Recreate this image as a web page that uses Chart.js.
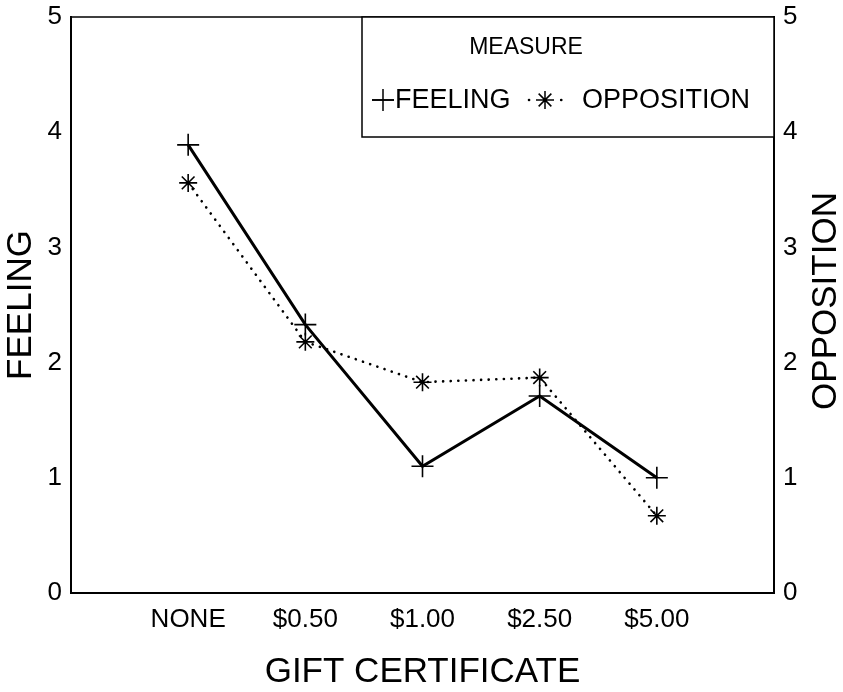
<!DOCTYPE html>
<html>
<head>
<meta charset="utf-8">
<script src="https://cdn.jsdelivr.net/npm/chart.js@4/dist/chart.umd.min.js"></script>
<style>
  html, body { margin: 0; padding: 0; background: #fff; }
  #wrap { width: 843px; height: 692px; }
</style>
</head>
<body>
<div id="wrap"><canvas id="giftChart" width="843" height="692"></canvas></div>
<script>
const categories = ['NONE', '$0.50', '$1.00', '$2.50', '$5.00'];
const feeling = [3.89, 2.33, 1.10, 1.71, 1.00];
const opposition = [3.56, 2.18, 1.83, 1.87, 0.67];
const yTicks = [0, 1, 2, 3, 4, 5];

const FONT = '"Liberation Sans", Arial, Helvetica, sans-serif';

// frame around the plot, boxed legend top right, right axis title read bottom-up
const framePlugin = {
  id: 'frame',
  afterDatasetsDraw(chart) {
    const { ctx, chartArea: a } = chart;
    ctx.save();
    ctx.strokeStyle = '#000';
    ctx.lineWidth = 1.5;
    ctx.strokeRect(a.left, a.top, a.right - a.left, a.bottom - a.top);

    const box = { left: a.right - 412, top: a.top, w: 412, h: 120 };
    ctx.fillStyle = '#fff';
    ctx.fillRect(box.left, box.top, box.w, box.h);
    ctx.strokeRect(box.left, box.top, box.w, box.h);

    ctx.fillStyle = '#000';
    ctx.textBaseline = 'middle';
    ctx.font = '23px ' + FONT;
    ctx.textAlign = 'center';
    ctx.fillText('MEASURE', box.left + 164, box.top + 31);

    const y = box.top + 83;
    ctx.textAlign = 'left';
    ctx.font = '27px ' + FONT;
    const items = [
      { ds: chart.data.datasets[0], cx: box.left + 21, tx: box.left + 33 },
      { ds: chart.data.datasets[1], cx: box.left + 183, tx: box.left + 220 }
    ];
    items.forEach(it => {
      const ds = it.ds;
      const dotted = ds.borderDash && ds.borderDash.length;
      ctx.save();
      ctx.lineWidth = dotted ? ds.borderWidth : 1.6;
      ctx.lineCap = dotted ? 'round' : 'butt';
      ctx.setLineDash(dotted ? [0.1, 16] : []);
      ctx.beginPath();
      if (dotted) {
        ctx.moveTo(it.cx - 16, y);
        ctx.lineTo(it.cx + 17, y);
      } else {
        ctx.moveTo(it.cx - 11, y);
        ctx.lineTo(it.cx + 11, y);
      }
      ctx.stroke();
      ctx.restore();
      Chart.helpers.drawPoint(ctx, {
        pointStyle: ds.pointStyle,
        radius: ds.pointRadius,
        borderWidth: ds.pointBorderWidth
      }, it.cx, y);
      ctx.fillText(ds.label, it.tx, y + 1);
    });

    // right axis title, rotated the same way as the left one
    ctx.save();
    ctx.font = '35px ' + FONT;
    ctx.textAlign = 'center';
    ctx.textBaseline = 'middle';
    ctx.translate(826, (a.top + a.bottom) / 2 - 4);
    ctx.rotate(-Math.PI / 2);
    ctx.fillText('OPPOSITION', 0, 0);
    ctx.restore();

    ctx.restore();
  }
};

new Chart(document.getElementById('giftChart'), {
  type: 'line',
  data: {
    datasets: [
      {
        label: 'FEELING',
        data: feeling.map((v, i) => ({ x: i + 1, y: v })),
        yAxisID: 'y',
        borderColor: '#000',
        backgroundColor: '#000',
        borderWidth: 3,
        pointStyle: 'cross',
        pointRadius: 11,
        pointBorderWidth: 1.6,
        pointBorderColor: '#000',
        tension: 0
      },
      {
        label: 'OPPOSITION',
        data: opposition.map((v, i) => ({ x: i + 1, y: v })),
        yAxisID: 'y1',
        borderColor: '#000',
        backgroundColor: '#000',
        borderWidth: 2.6,
        borderDash: [0.1, 7.5],
        borderCapStyle: 'round',
        pointStyle: 'star',
        pointRadius: 9,
        pointBorderWidth: 1.6,
        pointBorderColor: '#000',
        tension: 0
      }
    ]
  },
  plugins: [framePlugin],
  options: {
    responsive: false,
    animation: false,
    layout: { padding: { top: 17, left: 0, right: 0, bottom: 0 } },
    plugins: {
      legend: { display: false },
      tooltip: { enabled: false }
    },
    scales: {
      x: {
        type: 'linear',
        min: 0,
        max: 6,
        afterBuildTicks(scale) {
          scale.ticks = categories.map((c, i) => ({ value: i + 1 }));
        },
        afterFit(scale) { scale.height = 99; },
        grid: { display: false, drawTicks: false },
        border: { display: true, color: '#000', width: 2 },
        ticks: {
          color: '#000',
          font: { family: FONT, size: 26 },
          padding: 11,
          maxRotation: 0,
          autoSkip: false,
          callback: v => categories[v - 1] || ''
        },
        title: {
          display: true,
          text: 'GIFT CERTIFICATE',
          color: '#000',
          font: { family: FONT, size: 35, lineHeight: 1 },
          padding: { top: 0, bottom: 2 }
        }
      },
      y: {
        position: 'left',
        min: 0,
        max: 5,
        afterBuildTicks(scale) { scale.ticks = yTicks.map(v => ({ value: v })); },
        afterFit(scale) {
          scale.width = 71;
          scale.paddingTop = 0;
          scale.paddingBottom = 0;
        },
        grid: { display: false, drawTicks: false },
        border: { display: true, color: '#000', width: 2 },
        ticks: {
          color: '#000',
          font: { family: FONT, size: 26 },
          padding: 9
        },
        title: {
          display: true,
          text: 'FEELING',
          color: '#000',
          font: { family: FONT, size: 35, lineHeight: 1 },
          padding: { top: 4, bottom: 0 }
        }
      },
      y1: {
        position: 'right',
        min: 0,
        max: 5,
        afterBuildTicks(scale) { scale.ticks = yTicks.map(v => ({ value: v })); },
        afterFit(scale) {
          scale.width = 69;
          scale.paddingTop = 0;
          scale.paddingBottom = 0;
        },
        grid: { display: false, drawTicks: false },
        border: { display: true, color: '#000', width: 2 },
        ticks: {
          color: '#000',
          font: { family: FONT, size: 26 },
          padding: 9
        },
        title: { display: false }
      }
    }
  }
});
</script>
</body>
</html>
